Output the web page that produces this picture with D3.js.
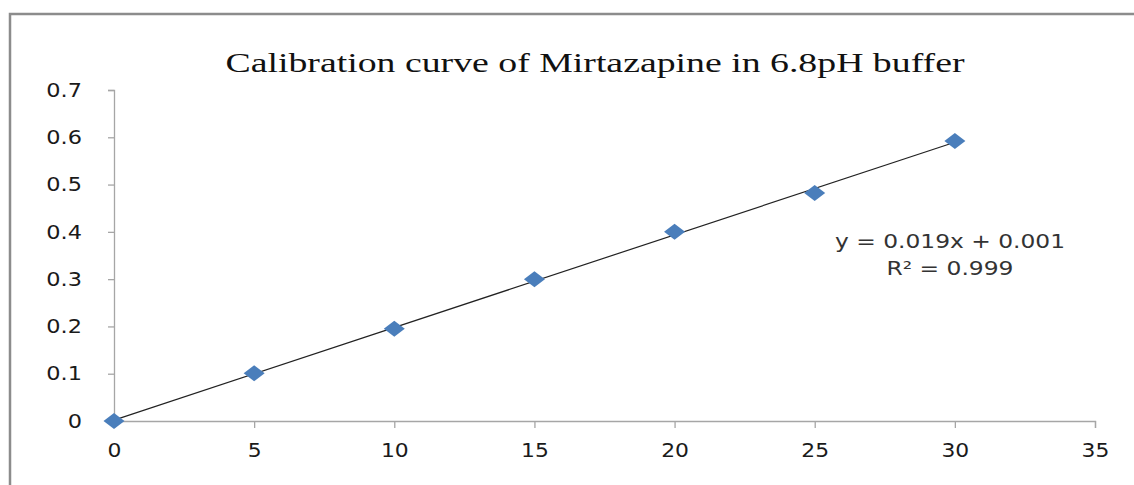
<!DOCTYPE html>
<html><head><meta charset="utf-8">
<script src="https://cdn.jsdelivr.net/npm/d3@7"></script>
<style>html,body{margin:0;padding:0;background:#fff;}svg{display:block;}</style>
</head><body>
<script>
const concentrations = [0, 5, 10, 15, 20, 25, 30];
const absorbance = [0, 0.101, 0.195, 0.3, 0.4, 0.482, 0.592];
const xTicks = [0, 5, 10, 15, 20, 25, 30, 35];
const yTicks = [0, 0.1, 0.2, 0.3, 0.4, 0.5, 0.6, 0.7];
const titleText = "Calibration curve of Mirtazapine in 6.8pH buffer";
const equationText = "y = 0.019x + 0.001";
const r2Text = "R² = 0.999";

const W = 1134, H = 485;
const svg = d3.select("body").append("svg").attr("width", W).attr("height", H);

// outer chart border (left and top only visible)
svg.append("path").attr("d", `M10,${H} L10,14 L${W},14`)
  .attr("fill", "none").attr("stroke", "#8c8c8c").attr("stroke-width", 2.5);

const x = d3.scaleLinear().domain([0, 35]).range([114, 1095]);
const y = d3.scaleLinear().domain([0, 0.7]).range([421, 90]);

function stretch(sel, f) {
  sel.each(function() {
    const L = this.getComputedTextLength();
    d3.select(this).attr("textLength", L * f).attr("lengthAdjust", "spacingAndGlyphs");
  });
}

// axes
const xAxis = svg.append("g").attr("transform", `translate(0,${y(0)})`)
  .call(d3.axisBottom(x).tickValues(xTicks).tickSize(7).tickPadding(20).tickFormat(d3.format("d")));
const yAxis = svg.append("g").attr("transform", `translate(${x(0)},0)`)
  .call(d3.axisLeft(y).tickValues(yTicks).tickSize(6).tickPadding(26).tickFormat(d => d === 0 ? "0" : d3.format(".1f")(d)));
[xAxis, yAxis].forEach(g => {
  g.selectAll("path.domain").attr("stroke", "#a6a6a6").attr("stroke-width", 1.3);
  g.selectAll(".tick line").attr("stroke", "#a6a6a6").attr("stroke-width", 1.3);
  g.selectAll("text").attr("font-family", "DejaVu Sans").attr("font-size", 19.5).attr("fill", "#1a1a1a");
});
xAxis.selectAll("text").attr("dy", "0.45em");
stretch(xAxis.selectAll("text"), 1.12);
stretch(yAxis.selectAll("text"), 1.15);

// linear regression trendline from data
const mx = d3.mean(concentrations), my = d3.mean(absorbance);
let sxy = 0, sxx = 0;
concentrations.forEach((c, i) => { sxy += (c - mx) * (absorbance[i] - my); sxx += (c - mx) ** 2; });
const slope = sxy / sxx, intercept = my - slope * mx;
const x0 = d3.min(concentrations), x1 = d3.max(concentrations);
svg.append("line")
  .attr("x1", x(x0)).attr("y1", y(slope * x0 + intercept))
  .attr("x2", x(x1)).attr("y2", y(slope * x1 + intercept))
  .attr("stroke", "#222").attr("stroke-width", 1.2);

// diamond markers
const data = concentrations.map((c, i) => ({ c, a: absorbance[i] }));
svg.append("g").selectAll("path").data(data).join("path")
  .attr("transform", d => `translate(${x(d.c)},${y(d.a)})`)
  .attr("d", "M-10.5,0 L0,-8 L10.5,0 L0,8 Z")
  .attr("fill", "#4a7ebb");

// title
const title = svg.append("text").attr("x", 595).attr("y", 72).attr("text-anchor", "middle")
  .attr("font-family", "Liberation Serif").attr("font-size", 27.5).attr("fill", "#111").text(titleText)
  .attr("textLength", 739).attr("lengthAdjust", "spacingAndGlyphs");

// equation
svg.append("text").attr("x", 950).attr("y", 248).attr("text-anchor", "middle")
  .attr("font-family", "DejaVu Sans").attr("font-size", 19).attr("fill", "#333").text(equationText)
  .attr("textLength", 230).attr("lengthAdjust", "spacingAndGlyphs");
svg.append("text").attr("x", 950).attr("y", 275).attr("text-anchor", "middle")
  .attr("font-family", "DejaVu Sans").attr("font-size", 19).attr("fill", "#333").text(r2Text)
  .attr("textLength", 127).attr("lengthAdjust", "spacingAndGlyphs");
</script>
</body></html>
